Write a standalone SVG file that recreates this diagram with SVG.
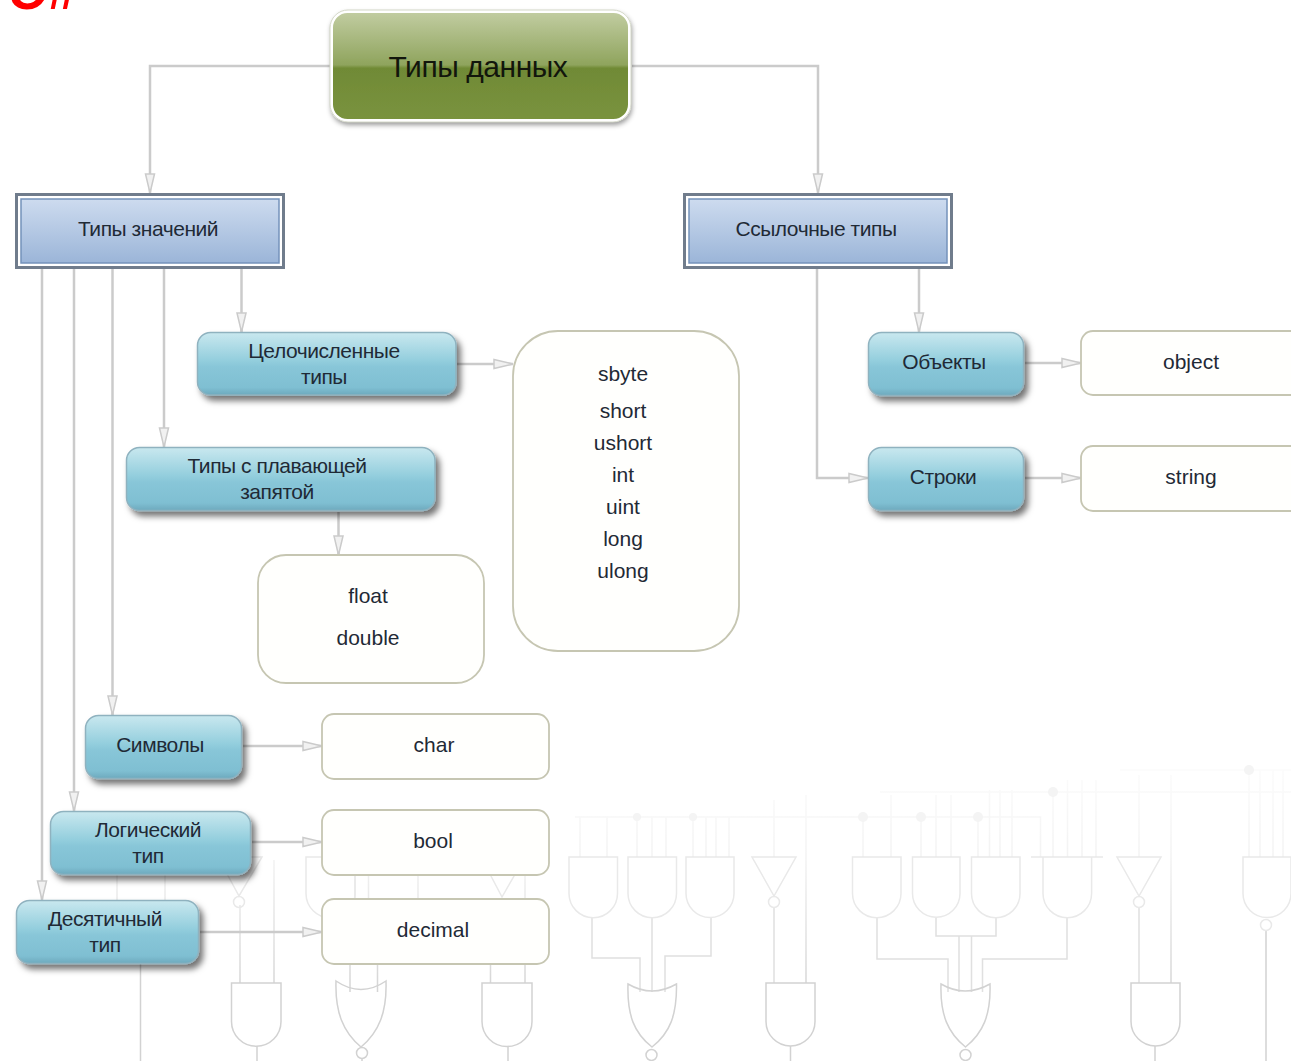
<svg xmlns="http://www.w3.org/2000/svg" width="1291" height="1061" viewBox="0 0 1291 1061">
<style>
text{font-family:"Liberation Sans",Arial,sans-serif;text-anchor:middle;fill:#1f2a36;font-size:21px}
.cy{letter-spacing:-.45px}
.gl{fill:none;stroke:#e9e9e9;stroke-width:1.5}
.gd{fill:none;stroke:#d2d2d2;stroke-width:1.5}
.gm{fill:none;stroke:#e0e0e0;stroke-width:1.5}
.w{fill:none;stroke:url(#wire);stroke-width:1.5}
.c{fill:none;stroke:#cbcbcb;stroke-width:2.500;marker-end:url(#arr)}
.wh{fill:#fffffd;stroke:#c6c6b2;stroke-width:1.800}
.bl{fill:url(#blue);stroke:#8fb2bf;stroke-width:1.500;filter:url(#sh)}
.bx{fill:#fff;stroke:#707c8c;stroke-width:3}
.bi{fill:url(#steel);stroke:#7492bb;stroke-width:1.500}
</style>
<defs>
<linearGradient id="wire" gradientUnits="userSpaceOnUse" x1="0" y1="770" x2="0" y2="1050"><stop offset="0" stop-color="#fbfbfb"/><stop offset=".31" stop-color="#f3f3f3"/><stop offset="1" stop-color="#c8c8c8"/></linearGradient>
<linearGradient id="green" x1="0" y1="0" x2="0" y2="1"><stop offset="0" stop-color="#c2cda2"/><stop offset=".49" stop-color="#8fa45d"/><stop offset=".52" stop-color="#708a36"/><stop offset="1" stop-color="#7a933e"/></linearGradient>
<linearGradient id="steel" x1="0" y1="0" x2="0" y2="1"><stop offset="0" stop-color="#cddbef"/><stop offset="1" stop-color="#9bb5d8"/></linearGradient>
<linearGradient id="blue" x1="0" y1="0" x2="0" y2="1"><stop offset="0" stop-color="#c9e8ef"/><stop offset=".45" stop-color="#93cedd"/><stop offset=".55" stop-color="#88c6d8"/><stop offset=".88" stop-color="#7fbfd2"/><stop offset="1" stop-color="#6da9bd"/></linearGradient>
<filter id="sh" x="-10%" y="-15%" width="125%" height="150%"><feDropShadow dx="4" dy="5" stdDeviation="3" flood-color="#000" flood-opacity=".55"/></filter>
<filter id="sh2" x="-10%" y="-15%" width="120%" height="130%"><feDropShadow dx="1" dy="3" stdDeviation="2.500" flood-color="#000" flood-opacity=".4"/></filter>
<filter id="soft" x="-2%" y="-2%" width="104%" height="104%"><feGaussianBlur stdDeviation=".6"/></filter>
<marker id="arr" markerUnits="userSpaceOnUse" markerWidth="24" markerHeight="16" refX="22" refY="8" orient="auto"><path d="M3 3.500 L22 8 L3 12.500 Z" fill="#f1f1f1" stroke="#cbcbcb" stroke-width="1.500"/></marker>
</defs>

<g id="background" filter="url(#soft)">
<g class="w">
<path d="M575 817H1040.500V857M880 792H1291M1120 770H1291"/>
<path d="M580 817V857M607 817V857M637 817V857M652 817V857M666 817V857M693 817V857M706 817V857M716 817V857M729 817V857M774 800V857M806 795V983"/>
<path d="M863 817V857M891 795V857M921 817V857M936 795V857M951 795V857M978 817V857M989.500 790V857M1000 790V857M1012 790V857M1053 792V857M1067.500 780V857M1082 780V857M1096 780V857M1139 775V857M1171 775V983M1249 770V857M1260 770V857M1273 770V857M1283 770V857"/>
<path d="M117 875V900M165 875V900M355 875V900M368.500 875V900M418 875V900M525 875V983M274 860V983M240 905V983M350 964V992M377.500 964V992M490.500 964V983"/>
</g>
<g fill="#f4f4f4"><circle cx="863" cy="817" r="5"/><circle cx="921" cy="817" r="5"/><circle cx="978" cy="817" r="5"/><circle cx="1053" cy="792" r="5"/><circle cx="1249" cy="770" r="5"/><circle cx="637" cy="817" r="4"/><circle cx="693" cy="817" r="4"/></g>
<g class="gm">
<path d="M592 918V958H640V992M652 918V992M711 918V956H665V992M774 907V983M877 918V959H948V992M936 918V936H996V918M959 936V992M971.500 936V992M1067 918V959H982.500V992M1139 907V983"/>
</g>
<g class="gd">
<path d="M140.500 964V1061M257 1046V1061M362 1058V1061M508 1046V1061M651.500 1060V1061M790.500 1046V1061M965.500 1060V1061M1155 1046V1061M1266 930V1061"/>
</g>
<g class="gl">
<path d="M569 857H617.500V893.500A24.250 24.250 0 0 1 569 893.500Z"/>
<path d="M628 857H676.500V893.500A24.250 24.250 0 0 1 628 893.500Z"/>
<path d="M686 857H734V893.500A24 24 0 0 1 686 893.500Z"/>
<path d="M752 857H796L774 896Z"/><circle cx="774" cy="902" r="5.500"/>
<path d="M852.500 857H901V893.500A24.250 24.250 0 0 1 852.500 893.500Z"/>
<path d="M912.500 857H960V893.500A23.750 23.750 0 0 1 912.500 893.500Z"/>
<path d="M971.500 857H1020V893.500A24.250 24.250 0 0 1 971.500 893.500Z"/>
<path d="M1031 857H1103M1043 857V893.500A24.300 24.300 0 0 0 1091.600 893.500V857"/>
<path d="M1117 857H1161L1139 896Z"/><circle cx="1139" cy="902" r="5.500"/>
<path d="M1243 857H1291V893.500A24 24 0 0 1 1243 893.500Z"/><circle cx="1266" cy="925" r="5.500"/>
<path d="M218 857H262L239 896Z"/><circle cx="239" cy="902" r="5.500"/>
<path d="M306 857V893.500A24.500 24.500 0 0 0 355 893.500V857Z"/>
<path d="M481 857H525L502 897Z"/>
</g>
<g class="gd">
<path d="M231.500 983H281V1021.500A24.750 24.750 0 0 1 231.500 1021.500Z"/>
<path d="M482 983H532V1021.500A25 25 0 0 1 482 1021.500Z"/>
<path d="M766 983H815V1021.500A24.500 24.500 0 0 1 766 1021.500Z"/>
<path d="M1131 983H1180V1021.500A24.500 24.500 0 0 1 1131 1021.500Z"/>
<path d="M336 981Q361 998 386 981C387 1012 379 1032 361 1047C343 1032 335 1012 336 981Z"/><circle cx="362" cy="1053" r="5.500"/>
<path d="M628 984Q652 998 676.500 984C677 1015 670 1033 652 1047C634 1033 627 1015 628 984Z"/><circle cx="651.500" cy="1055" r="5.500"/>
<path d="M941 984Q965 998 990 984C991 1015 983 1033 965.500 1047C948 1033 940 1015 941 984Z"/><circle cx="965.500" cy="1055" r="5.500"/>
</g>
</g>

<text x="8" y="9" style="font-size:54px;font-weight:bold;font-style:italic;fill:#ff0000;text-anchor:start">C#</text>

<g id="connectors">
<path class="c" d="M330 66H150V193"/>
<path class="c" d="M632 66H818V193"/>
<path class="c" d="M42 269V900"/>
<path class="c" d="M74 269V811"/>
<path class="c" d="M112.500 269V715"/>
<path class="c" d="M164 269V447"/>
<path class="c" d="M241.500 269V332"/>
<path class="c" d="M919 269V332"/>
<path class="c" d="M817 269V478H868"/>
<path class="c" d="M457 364H513"/>
<path class="c" d="M338.500 512V555"/>
<path class="c" d="M243 746H322"/>
<path class="c" d="M252 842H322"/>
<path class="c" d="M200 932H322"/>
<path class="c" d="M1025 363H1081"/>
<path class="c" d="M1025 478H1081"/>
</g>

<g id="root">
<rect x="331.500" y="11.500" width="298" height="109" rx="16" fill="url(#green)" stroke="#fff" stroke-width="3" filter="url(#sh2)"/>
<rect x="330" y="10" width="301" height="112" rx="18" fill="none" stroke="#d4d8c8" stroke-width="1"/>
<text class="cy" x="478" y="77" style="font-size:30px;fill:#12160c">Типы данных</text>
</g>
<g id="value-types">
<rect class="bx" x="16.500" y="194.500" width="267" height="73"/>
<rect class="bi" x="21" y="199" width="258" height="64"/>
<text class="cy" x="148" y="236">Типы значений</text>
</g>
<g id="reference-types">
<rect class="bx" x="684.500" y="194.500" width="267" height="73"/>
<rect class="bi" x="689" y="199" width="258" height="64"/>
<text class="cy" x="816" y="236">Ссылочные типы</text>
</g>
<g id="integer-types">
<rect class="bl" x="197.500" y="332.500" width="258.500" height="62.500" rx="13"/>
<text class="cy" x="324" y="358">Целочисленные</text><text class="cy" x="324" y="384">типы</text>
</g>
<g id="float-types">
<rect class="bl" x="126.500" y="447.500" width="308.500" height="63" rx="13"/>
<text class="cy" x="277" y="473">Типы с плавающей</text><text class="cy" x="277" y="499">запятой</text>
</g>
<g id="char-types">
<rect class="bl" x="85.500" y="715.500" width="156" height="63" rx="13"/>
<text class="cy" x="160" y="752">Символы</text>
</g>
<g id="bool-types">
<rect class="bl" x="50.500" y="811.500" width="200" height="63" rx="13"/>
<text class="cy" x="148" y="837">Логический</text><text class="cy" x="148" y="863">тип</text>
</g>
<g id="decimal-types">
<rect class="bl" x="16.500" y="900.500" width="182" height="63" rx="13"/>
<text class="cy" x="105" y="926">Десятичный</text><text class="cy" x="105" y="952">тип</text>
</g>
<g id="objects">
<rect class="bl" x="868.500" y="332.500" width="155" height="63" rx="13"/>
<text class="cy" x="944" y="369">Объекты</text>
</g>
<g id="strings">
<rect class="bl" x="868.500" y="447.500" width="155" height="63" rx="13"/>
<text class="cy" x="943" y="484">Строки</text>
</g>
<g id="integer-list">
<rect class="wh" x="513" y="331" width="226" height="320" rx="45"/>
<text x="623" y="381">sbyte</text><text x="623" y="418">short</text><text x="623" y="450">ushort</text><text x="623" y="482">int</text><text x="623" y="514">uint</text><text x="623" y="546">long</text><text x="623" y="578">ulong</text>
</g>
<g id="float-list">
<rect class="wh" x="258" y="555" width="226" height="128" rx="28"/>
<text x="368" y="603">float</text><text x="368" y="645">double</text>
</g>
<g id="char-box"><rect class="wh" x="322" y="714" width="227" height="65" rx="12"/><text x="434" y="752">char</text></g>
<g id="bool-box"><rect class="wh" x="322" y="810" width="227" height="65" rx="12"/><text x="433" y="848">bool</text></g>
<g id="decimal-box"><rect class="wh" x="322" y="899" width="227" height="65" rx="12"/><text x="433" y="937">decimal</text></g>
<g id="object-box"><rect class="wh" x="1081" y="331" width="240" height="64" rx="12"/><text x="1191" y="369">object</text></g>
<g id="string-box"><rect class="wh" x="1081" y="446" width="240" height="65" rx="12"/><text x="1191" y="484">string</text></g>
</svg>
